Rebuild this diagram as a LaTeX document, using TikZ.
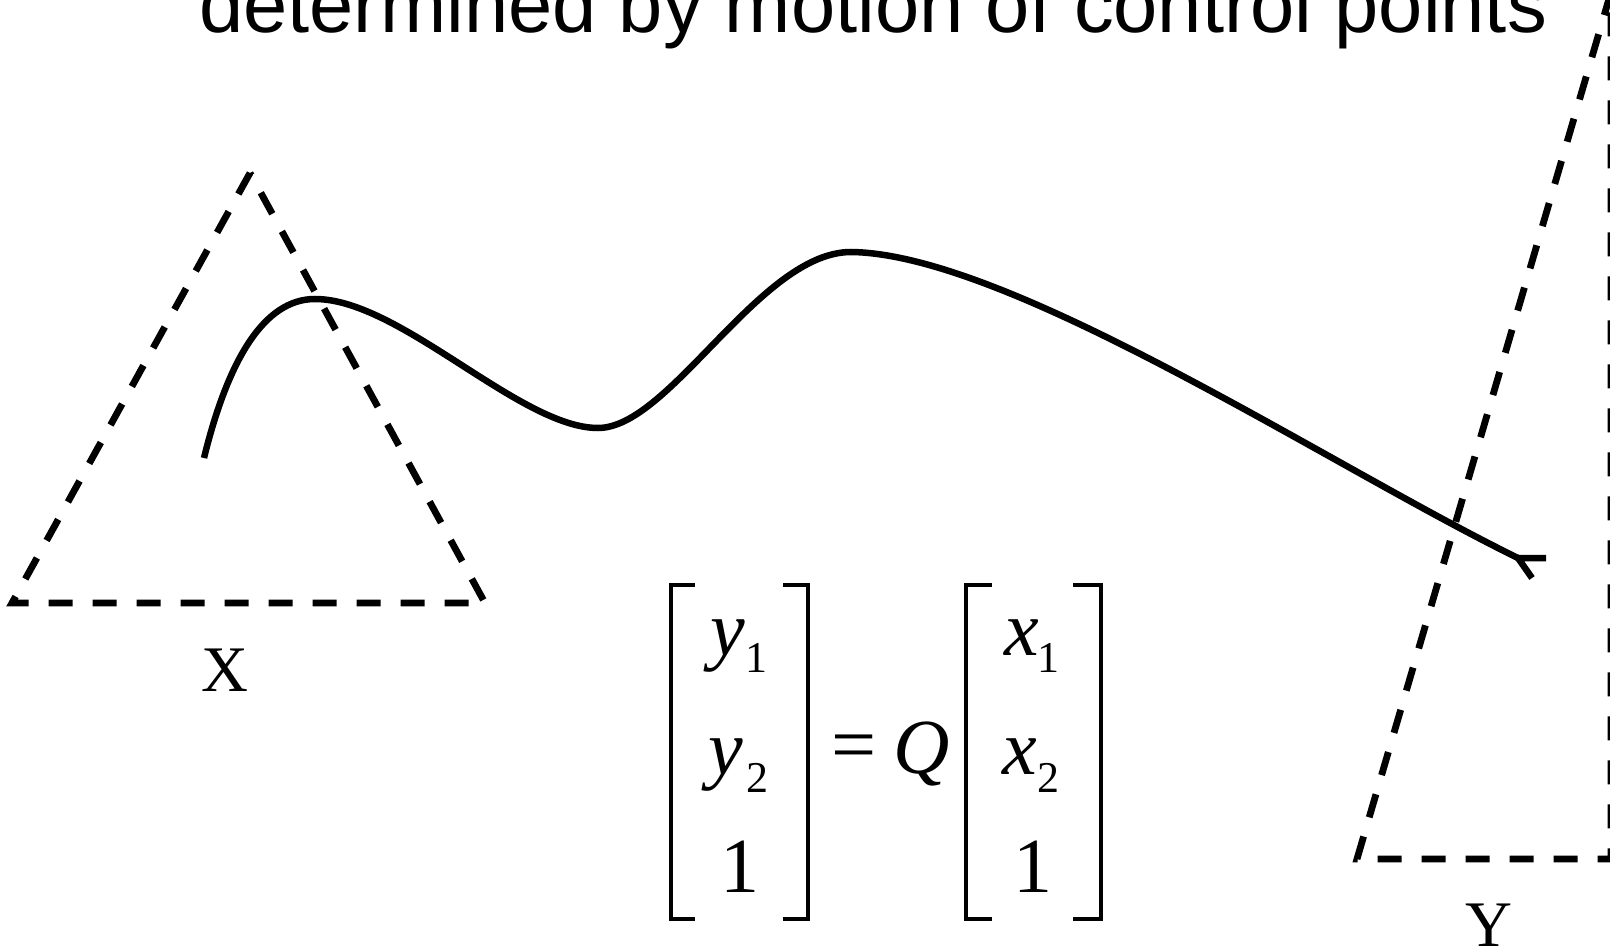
\documentclass[tikz,border=0pt]{standalone}
\usepackage{fontspec}
\setmainfont{Liberation Serif}
\newfontfamily\titlefont{Liberation Sans}
\begin{document}
\begin{tikzpicture}[x=1pt,y=-1pt,
  dashtri/.style={line width=6.8pt, dash pattern=on 24pt off 20pt},
  curvestyle/.style={line width=6.5pt},
  brk/.style={line width=3.8pt},
  ent/.style={inner sep=0pt, anchor=base, font=\fontsize{78}{78}\selectfont},
  subent/.style={inner sep=0pt, anchor=base, font=\fontsize{44}{44}\selectfont},
  lab/.style={inner sep=0pt, anchor=base, font=\fontsize{65}{65}\selectfont}]
\useasboundingbox (0,0) rectangle (1610,947);
\clip (0,0) rectangle (1610,947);

% title
\node[inner sep=0pt, anchor=base west, font=\titlefont\fontsize{79.5}{80}\selectfont] (title) at (199,33) {determined by motion of control points};

% triangle X
\coordinate (xa) at (250,173);
\coordinate (xl) at (12,603);
\coordinate (xr) at (485,603);
\draw[dashtri] (xa) -- (xl) -- (xr) -- cycle;
\node[lab] (labx) at (225,691) {X};

% triangle Y
\coordinate (ya) at (1611,-8);
\coordinate (yl) at (1357,859);
\coordinate (yr) at (1611,859);
\draw[dashtri] (ya) -- (yl) -- (yr) -- cycle;
\node[lab] (laby) at (1489,946) {Y};

% curve
\coordinate (c0) at (204,458);
\coordinate (c1) at (315,299);
\coordinate (c2) at (598,428);
\coordinate (c3) at (851,252);
\coordinate (c4) at (1518,558);
\draw[curvestyle] (c0) .. controls (228,360) and (264,299) .. (c1)
  .. controls (400,299) and (520,428) .. (c2)
  .. controls (670,428) and (760,252) .. (c3)
  .. controls (1010,254) and (1330,466) .. (c4);
\coordinate (b1) at (1546,558);
\coordinate (b2) at (1532,578);
\draw[curvestyle] (b1) -- (c4) -- (b2);

% equation brackets
\draw[brk] (695,585) -- (671,585) -- (671,919) -- (695,919);
\draw[brk] (783,585) -- (808,585) -- (808,919) -- (783,919);
\draw[brk] (992,585) -- (966,585) -- (966,919) -- (992,919);
\draw[brk] (1073,585) -- (1101,585) -- (1101,919) -- (1073,919);

% entries
\node[ent] (y1) at (728,655) {\itshape y};
\node[subent] (y1s) at (756,672) {1};
\node[ent] (y2) at (726,774) {\itshape y};
\node[subent] (y2s) at (757,792) {2};
\node[ent] (yone) at (740,892) {1};
\node[ent] (x1) at (1022,655) {\itshape x};
\node[subent] (x1s) at (1048,672) {1};
\node[ent] (x2) at (1020,774) {\itshape x};
\node[subent] (x2s) at (1048,792) {2};
\node[ent] (xone) at (1033,892) {1};
\node[inner sep=0pt, font=\fontsize{80}{80}\selectfont] (eq) at (854,753) {=};
\node[ent] (q) at (922,773) {\itshape Q};
\end{tikzpicture}
\end{document}
